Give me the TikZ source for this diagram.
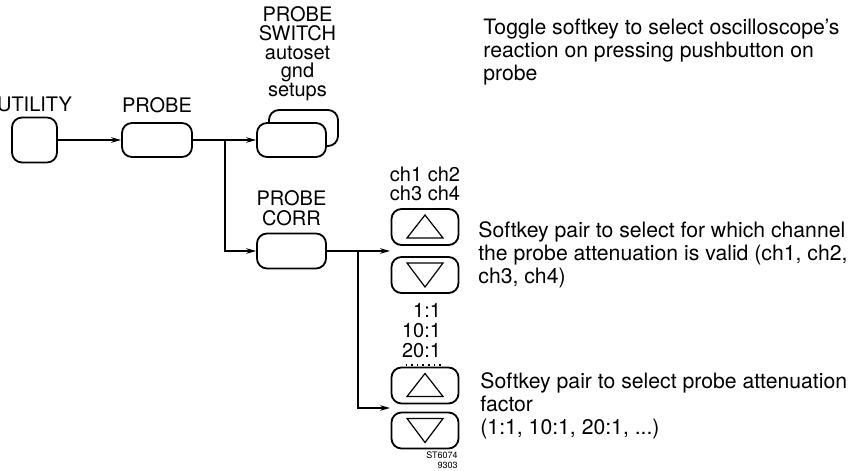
\documentclass[tikz,border=0pt]{standalone}
\usepackage{fontspec}
\setmainfont{TeX Gyre Heros}
\usetikzlibrary{arrows.meta, positioning, calc}

\begin{document}
\begin{tikzpicture}[
    x=0.5pt, y=-0.5pt,
    >={Stealth[length=5pt,width=2.8pt]},
    arrow/.style={->,line width=0.6pt},
    menubox/.style={draw,line width=0.9pt,rounded corners=5pt,fill=white,
                    minimum width=34.5pt,minimum height=17pt,inner sep=0pt},
    softkey/.style={draw,line width=0.9pt,rounded corners=5pt,
                    minimum width=33.5pt,minimum height=18pt,inner sep=0pt},
    tri/.style={line width=0.6pt,line join=miter},
    caption/.style={inner sep=0pt,align=center,font=\fontsize{10}{10}\selectfont},
    tight/.style={font=\fontsize{10}{9.3}\selectfont},
    desc/.style={inner sep=0pt,align=left,anchor=north west,font=\fontsize{10.6}{11.5}\selectfont}
]
\useasboundingbox (0,0) rectangle (849,470);

%--------------------------------------------------------------------
% Menu boxes
%--------------------------------------------------------------------
\node[menubox,minimum width=22.5pt,minimum height=22.5pt] (utility) at (34.5,140) {};
\node[menubox,minimum width=35pt] (probe) at (157,140) {};
\node[menubox,minimum height=18pt] (swback) at (303.5,128) {};
\node[menubox] (switch) at (291.5,140) {};
\node[menubox,minimum height=17.5pt] (corr) at (291.5,251) {};

\node[caption,above=2pt of utility] {UTILITY};
\node[caption,above=4.5pt of probe] {PROBE};
\node[caption,tight,above=4pt of swback,xshift=-3pt] {PROBE\\SWITCH\\autoset\\gnd\\setups};
\node[caption,above=3pt of corr] {PROBE\\CORR};

%--------------------------------------------------------------------
% Softkey pairs
%--------------------------------------------------------------------
\node[softkey] (k1) at (425,227) {};
\node[softkey] (k2) at (425,275) {};
\node[softkey] (k3) at (425,385.5) {};
\node[softkey] (k4) at (425,430.5) {};

\foreach \k in {k1,k3}
  \draw[tri,shift={(\k.center)}] (0,-12) -- (18,11) -- (-18,11) -- cycle;
\foreach \k in {k2,k4}
  \draw[tri,shift={(\k.center)}] (-18,-12) -- (18,-12) -- (0,12) -- cycle;

\node[caption,tight,above=3.5pt of k1] (chans) {ch1 ch2\\ch3 ch4};
\node[caption,align=right,below=4.5pt of k2.south east,anchor=north east,xshift=-9pt]
      (ratios) {1:1\\10:1\\20:1};
\draw[dotted,line width=0.8pt] ([yshift=-3.5pt,xshift=2pt]ratios.south west)
      -- ([yshift=-3.5pt,xshift=1pt]ratios.south east);

\node[inner sep=0pt,align=right,anchor=north east,font=\fontsize{4.5}{5}\selectfont]
      (code) at (458,451) {ST6074\\9303};

%--------------------------------------------------------------------
% Connectors
%--------------------------------------------------------------------
\coordinate (b1) at (225,140);
\coordinate (b2) at (358,251);
\coordinate (c1) at (390,251);
\coordinate (c2) at (390,408);

\draw[arrow] (utility) -- (probe);
\draw[arrow] (probe) -- (switch);
\draw[arrow] (b1) |- (corr);
\draw[arrow] (corr) -- (c1);
\draw[arrow] (b2) |- (c2);

%--------------------------------------------------------------------
% Descriptions
%--------------------------------------------------------------------
\node[desc] (d1) at (483,19) {Toggle softkey to select oscilloscope's\\reaction on pressing pushbutton on\\probe};
\node[desc] (d2) at (478,221) {Softkey pair to select for which channel\\the probe attenuation is valid (ch1, ch2,\\ch3, ch4)};
\node[desc] (d3) at (480,372) {Softkey pair to select probe attenuation\\factor\\(1:1, 10:1, 20:1, ...)};

\end{tikzpicture}
\end{document}
